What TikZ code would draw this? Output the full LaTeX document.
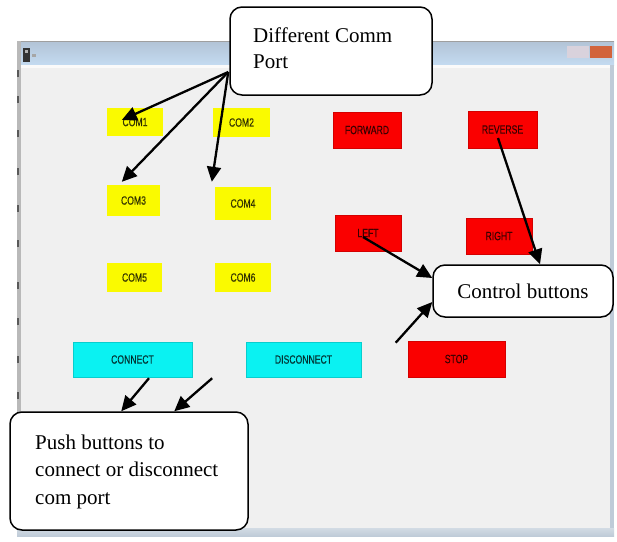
\documentclass[tikz,border=0pt]{standalone}
\usepackage{fontspec}
\setmainfont{Liberation Serif}
\newfontfamily\btnfont[FakeStretch=0.72,FakeBold=0.6]{Liberation Sans}
\usetikzlibrary{arrows.meta,calc}

\definecolor{winbg}{HTML}{F0F0F0}
\definecolor{titletop}{HTML}{B2C3D6}
\definecolor{titlebot}{HTML}{C4DBF1}
\definecolor{frameedge}{HTML}{BFCBD8}
\definecolor{btnyellow}{HTML}{FAFA00}
\definecolor{btnred}{HTML}{FA0000}
\definecolor{btncyan}{HTML}{0AF2F2}
\definecolor{closebtn}{HTML}{D2643C}
\definecolor{minbtn}{HTML}{D9D2DC}

\tikzset{
  guibtn/.style={rectangle, inner sep=0pt, font=\btnfont\fontsize{12}{12}\selectfont,
                 text=black, text opacity=0.7},
  combtn/.style={guibtn, fill=btnyellow},
  ctlbtn/.style={guibtn, fill=btnred, draw=btnred!85!black, line width=0.6pt},
  linkbtn/.style={guibtn, fill=btncyan, draw=btncyan!85!black, line width=0.4pt},
  callout/.style={rectangle, draw=black, fill=white, line width=1.5pt,
                  rounded corners=12pt, inner sep=0pt},
  callouttext/.style={inner sep=0pt, font=\fontsize{21}{27.5}\selectfont},
  pointer/.style={draw=black, line width=2.3pt,
                  -{Triangle[length=15pt,width=14pt]}}
}

\begin{document}
\begin{tikzpicture}[x=1pt,y=-1pt]
  \useasboundingbox (0,0) rectangle (617,541);
  \fill[white] (0,0) rectangle (617,541);

  % application window
  \fill[winbg] (17,41) rectangle (614,536);
  \shade[top color=titletop, bottom color=titlebot] (17,41) rectangle (614,65);
  \draw[gray!75, line width=1pt] (17,41.5) -- (614,41.5);
  \fill[white!70!winbg] (17,65) rectangle (614,68);
  \fill[gray!55] (17,41) rectangle (21,536);
  \foreach \yy in {70,96,130,168,205,240,282,318,356,392,430,470,505}
    \fill[gray!70!black] (17,\yy) rectangle (19,\yy+7);
  \fill[frameedge] (610,65) rectangle (614,536);
  \shade[top color=frameedge!70!white, bottom color=frameedge] (17,528) rectangle (614,536);
  % window icon and caption buttons
  \fill[black!80] (23,48) rectangle (30,62);
  \fill[gray!60] (25,50) rectangle (28,53);
  \fill[gray!70] (32,54) rectangle (36,57);
  \fill[minbtn] (567,46) rectangle (589,58);
  \fill[closebtn] (590,46) rectangle (612,58);

  % port selection buttons
  \node[combtn, minimum width=56, minimum height=28] (com1) at (135,122)   {COM1\hspace{12pt}};
  \node[combtn, minimum width=57, minimum height=29] (com2) at (241.5,122.5) {COM2\hspace{12pt}};
  \node[combtn, minimum width=53, minimum height=31] (com3) at (133.5,200.5) {COM3\hspace{12pt}};
  \node[combtn, minimum width=56, minimum height=33] (com4) at (243,203.5)   {COM4\hspace{12pt}};
  \node[combtn, minimum width=55, minimum height=29] (com5) at (134.5,277.5) {COM5\hspace{12pt}};
  \node[combtn, minimum width=56, minimum height=29] (com6) at (243,277.5)   {COM6\hspace{12pt}};

  % motion control buttons
  \node[ctlbtn, minimum width=68, minimum height=36] (fwd)   at (367,130)   {FORWARD};
  \node[ctlbtn, minimum width=69, minimum height=37] (rev)   at (502.5,129.5) {REVERSE};
  \node[ctlbtn, minimum width=66, minimum height=36] (left)  at (368,233)   {LEFT};
  \node[ctlbtn, minimum width=66, minimum height=36] (right) at (499,236)   {RIGHT};
  \node[ctlbtn, minimum width=97, minimum height=36] (stop)  at (456.5,359) {STOP};

  % connection buttons
  \node[linkbtn, minimum width=119, minimum height=35] (connect)    at (132.5,359.5) {CONNECT};
  \node[linkbtn, minimum width=115, minimum height=35] (disconnect) at (303.5,359.5) {DISCONNECT};

  % callouts
  \node[callout, minimum width=202, minimum height=88] (comm) at (331,51) {};
  \node[callouttext, font=\fontsize{21}{26}\selectfont, anchor=base west, align=left]
       (commtext) at (253,68) {Different Comm\\Port};

  \node[callout, minimum width=180, minimum height=52] (ctrl) at (523,291)
       {\fontsize{21}{27.5}\selectfont Control buttons};

  \node[callout, minimum width=238, minimum height=118] (push) at (129,471) {};
  \node[callouttext, anchor=base west, align=left] (pushtext) at (35,504)
       {Push buttons to\\connect or disconnect\\com port};

  % pointers
  \coordinate (commfoot) at ($(comm.west)+(-1,21)$);
  \draw[pointer] (commfoot) -- ($(com1.west)+(15,-2)$);
  \draw[pointer] (commfoot) -- ($(com3.north west)+(15,-3)$);
  \draw[pointer] (commfoot) -- ($(com4.north west)+(-3,-5)$);

  \draw[pointer] ($(rev.center)+(-4.5,8.5)$) -- ($(ctrl.north)+(17,0)$);
  \draw[pointer] ($(left.center)+(-5,4)$) -- ($(ctrl.west)+(0,-13)$);
  \coordinate (stopfoot) at ($(stop.north west)+(-12,2)$);
  \draw[pointer] (stopfoot) -- ($(ctrl.west)+(0,11)$);

  \draw[pointer] ($(connect.south)+(16.5,1)$) -- ($(push.north west)+(112,0)$);
  \draw[pointer] ($(connect.south east)+(20,1)$) -- ($(push.north west)+(165,0)$);
\end{tikzpicture}
\end{document}
